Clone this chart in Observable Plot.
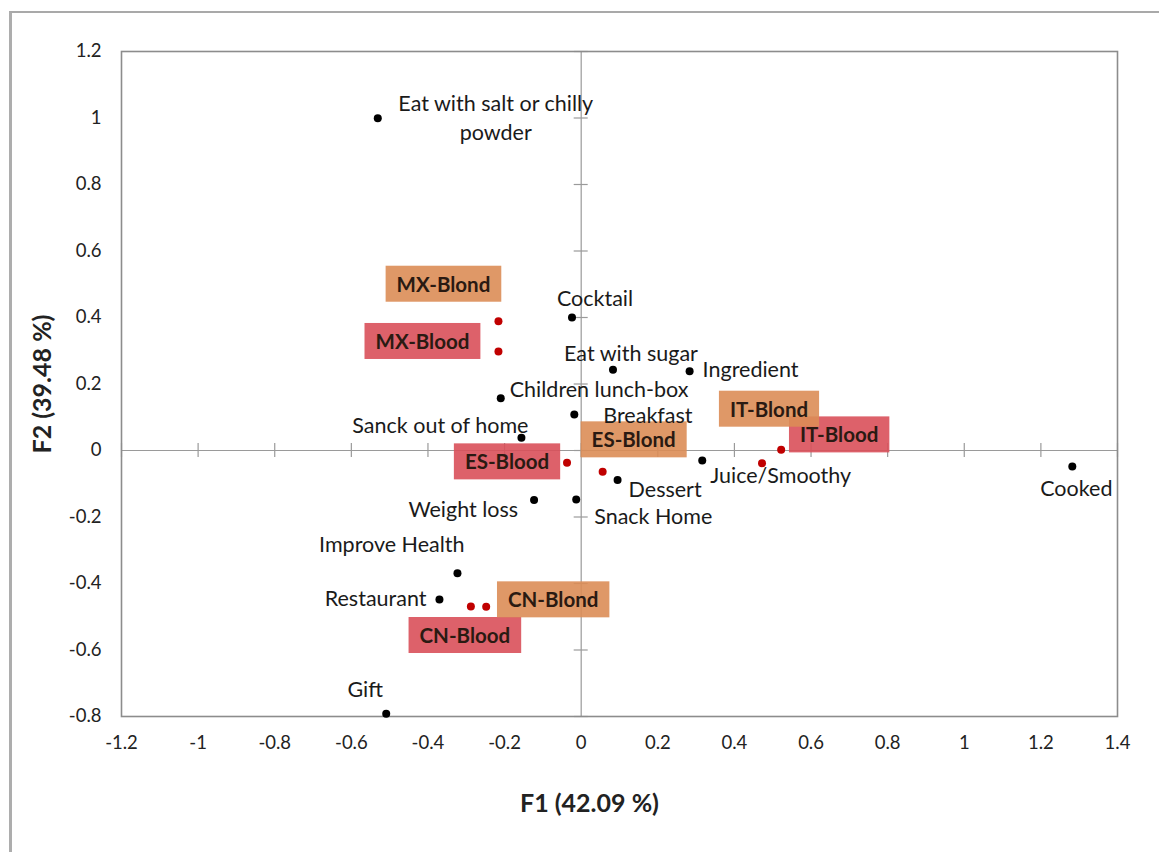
<!DOCTYPE html>
<html><head><meta charset="utf-8">
<script src="https://cdn.jsdelivr.net/npm/d3@7"></script>
<script src="https://cdn.jsdelivr.net/npm/@observablehq/plot@0.6"></script>
<style>
body{margin:0;background:#fff;}
#wrap{position:relative;width:1159px;height:852px;overflow:hidden;}
#chart{position:absolute;left:0;top:0;}
#border{position:absolute;left:9px;top:11px;right:-10px;bottom:-10px;border-top:2px solid #a9a9a9;border-left:3px solid #adadad;z-index:2;pointer-events:none;}
</style></head><body>
<div id="wrap"><div id="chart"></div><div id="border"></div></div>
<script>
// ---- data ----
const usages = ["Eat with salt or chilly\npowder","Cocktail","Eat with sugar","Ingredient","Children lunch-box","Breakfast","Sanck out of home","Juice/Smoothy","Dessert","Snack Home","Weight loss","Improve Health","Restaurant","Gift","Cooked"];
const usageF1 = [-0.531,-0.024,0.083,0.283,-0.210,-0.018,-0.156,0.316,0.095,-0.013,-0.123,-0.323,-0.370,-0.509,1.282];
const usageF2 = [0.999,0.400,0.243,0.238,0.157,0.108,0.038,-0.030,-0.089,-0.147,-0.149,-0.369,-0.448,-0.792,-0.048];

const groups = ["MX-Blond","MX-Blood","ES-Blood","ES-Blond","IT-Blood","IT-Blond","CN-Blood","CN-Blond"];
const groupF1 = [-0.216,-0.216,-0.037,0.056,0.522,0.472,-0.288,-0.248];
const groupF2 = [0.389,0.298,-0.037,-0.064,0.002,-0.038,-0.469,-0.470];

const xTicks = [-1.2,-1,-0.8,-0.6,-0.4,-0.2,0,0.2,0.4,0.6,0.8,1,1.2,1.4];
const yTicks = [-0.8,-0.6,-0.4,-0.2,0,0.2,0.4,0.6,0.8,1,1.2];
const xTitle = "F1 (42.09 %)";
const yTitle = "F2 (39.48 %)";

// ---- label layout (pixel offsets from the point) ----
const usageLabelLayout = {
  "Eat with salt or chilly\npowder": [118, -2, "middle"],
  "Cocktail": [23, -21, "middle"],
  "Eat with sugar": [18, -18, "middle"],
  "Ingredient": [13, -4, "start"],
  "Children lunch-box": [9, -11, "start"],
  "Breakfast": [29, -1, "start"],
  "Sanck out of home": [7, -14, "end"],
  "Juice/Smoothy": [8, 13, "start"],
  "Dessert": [11, 8, "start"],
  "Snack Home": [18, 15, "start"],
  "Weight loss": [-16, 8, "end"],
  "Improve Health": [7, -30, "end"],
  "Restaurant": [-13, -3, "end"],
  "Gift": [-21, -26, "middle"],
  "Cooked": [4, 20, "middle"]
};
const groupLabelLayout = {
  "MX-Blond": [-55, -36], "MX-Blood": [-76, -9], "ES-Blood": [-60, 0], "ES-Blond": [31, -31],
  "IT-Blood": [58, -14], "IT-Blond": [7, -53], "CN-Blood": [-6, 30], "CN-Blond": [67, -6]
};

// ---- dimensions ----
const W = 1159, H = 852, ML = 121, MR = 42, MT = 51, MB = 136;
const xDom = [-1.2, 1.4], yDom = [-0.8, 1.2];
const pxX = (W - ML - MR) / (xDom[1] - xDom[0]);
const pxY = (H - MT - MB) / (yDom[1] - yDom[0]);

const usageData = usages.map((name, i) => ({name, f1: usageF1[i], f2: usageF2[i], lay: usageLabelLayout[name]}));
const groupData = groups.map((name, i) => ({name, f1: groupF1[i], f2: groupF2[i], lay: groupLabelLayout[name]}));

const fmt = d => String(+d.toFixed(1));
const tickHalf = 7;

const labelMarks = ["start","middle","end"].map(anchor =>
  Plot.text(usageData.filter(d => d.lay[2] === anchor), {
    x: d => d.f1 + d.lay[0] / pxX,
    y: d => d.f2 - d.lay[1] / pxY,
    text: d => d.name,
    textAnchor: anchor,
    lineAnchor: "middle",
    lineHeight: 1.35,
    fontSize: 21.5,
    fill: "#1a1a1a"
  })
);

const chart = Plot.plot({
  width: W, height: H,
  marginLeft: ML, marginRight: MR, marginTop: MT, marginBottom: MB,
  style: {fontFamily: "Lato, 'Open Sans', sans-serif", fontSize: "18.5px", color: "#222", background: "transparent"},
  x: {domain: xDom, ticks: xTicks, tickSize: 0, tickPadding: 19, tickFormat: fmt, label: null},
  y: {domain: yDom, ticks: yTicks, tickSize: 0, tickPadding: 20, tickFormat: fmt, label: null},
  marks: [
    Plot.ruleY([0], {stroke: "#9a9a9a", strokeWidth: 1.2}),
    Plot.ruleX([0], {stroke: "#9a9a9a", strokeWidth: 1.2}),
    Plot.ruleX(xTicks, {x: d => d, y1: -tickHalf / pxY, y2: tickHalf / pxY, stroke: "#9a9a9a", strokeWidth: 1.2}),
    Plot.ruleY(yTicks, {y: d => d, x1: -tickHalf / pxX, x2: tickHalf / pxX, stroke: "#9a9a9a", strokeWidth: 1.2}),
    Plot.frame({stroke: "#8c8c8c", strokeWidth: 1.6}),
    Plot.text(groupData, {
      x: d => d.f1 + d.lay[0] / pxX,
      y: d => d.f2 - d.lay[1] / pxY,
      text: d => d.name,
      fontSize: 20.5, fontWeight: "bold", fill: "#2a1a12",
      className: "boxlabel"
    }),
    Plot.dot(groupData, {x: "f1", y: "f2", r: 4, fill: "#c00000", stroke: "none"}),
    Plot.dot(usageData, {x: "f1", y: "f2", r: 4, fill: "#000", stroke: "none"}),
    ...labelMarks,
    Plot.text([xTitle], {frameAnchor: "bottom", textAnchor: "middle", dx: -30, dy: 87, text: d => d, fontSize: 25, fontWeight: "bold", fill: "#222", lineAnchor: "middle"}),
    Plot.text([yTitle], {frameAnchor: "left", textAnchor: "middle", dx: -79, text: d => d, rotate: -90, fontSize: 25, fontWeight: "bold", fill: "#222", lineAnchor: "middle"})
  ]
});
document.getElementById("chart").appendChild(chart);

// boxes behind the group labels
const NS = "http://www.w3.org/2000/svg";
chart.querySelectorAll("g.boxlabel text").forEach(t => {
  const b = t.getBBox();
  const r = document.createElementNS(NS, "rect");
  const padX = 11, padY = 7;
  r.setAttribute("x", b.x - padX);
  r.setAttribute("y", b.y - padY + 1);
  r.setAttribute("width", b.width + 2 * padX);
  r.setAttribute("height", b.height + 2 * padY - 2);
  const blond = t.textContent.includes("Blond");
  r.setAttribute("fill", blond ? "#dc8d56" : "#d9505a");
  r.setAttribute("fill-opacity", "0.9");
  const tr = t.getAttribute("transform");
  if (tr) r.setAttribute("transform", tr);
  t.parentNode.insertBefore(r, t);
});
</script>
</body></html>
